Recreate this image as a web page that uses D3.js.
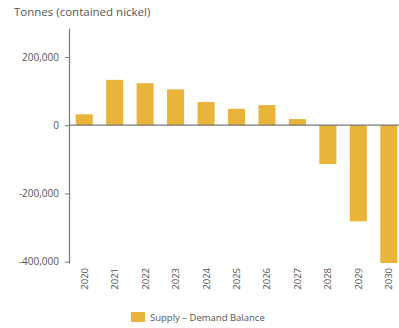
<!DOCTYPE html>
<html>
<head>
<meta charset="utf-8">
<script src="https://cdn.jsdelivr.net/npm/d3@7"></script>
<style>
  body { margin: 0; background: #fff; }
  svg { font-family: "Open Sans", sans-serif; }
</style>
</head>
<body>
<div id="chart"></div>
<script>
// data
var years = ["2020", "2021", "2022", "2023", "2024", "2025", "2026", "2027", "2028", "2029", "2030"];
var balance = [32000, 133000, 123000, 105000, 68000, 48000, 59000, 18000, -114000, -282000, -404000];
var yTicks = [200000, 0, -200000, -400000];
var seriesName = "Supply \u2013 Demand Balance";

var width = 399, height = 328;
var barColor = "#E8B43A";
var textColor = "#555";

var svg = d3.select("#chart").append("svg")
  .attr("width", width)
  .attr("height", height);

var x = d3.scaleBand().domain(years).range([69, 404]).paddingInner(0.44).paddingOuter(0.22);
var y = d3.scaleLinear().domain([-404000, 285000]).range([263, 28]);

// title
svg.append("text")
  .attr("x", 14).attr("y", 16)
  .attr("font-size", 11.5)
  .attr("fill", textColor)
  .text("Tonnes (contained nickel)");

// bars
svg.selectAll("rect.bar")
  .data(years)
  .enter().append("rect")
  .attr("class", "bar")
  .attr("x", function (d) { return x(d); })
  .attr("width", x.bandwidth())
  .attr("y", function (d, i) { return y(Math.max(0, balance[i])); })
  .attr("height", function (d, i) { return Math.abs(y(balance[i]) - y(0)); })
  .attr("fill", barColor);

// y axis, plain hyphen for negatives like the original
var fmt = d3.format(",");
var yAxis = svg.append("g")
  .attr("transform", "translate(69,0)")
  .call(d3.axisLeft(y).tickValues(yTicks).tickSize(4).tickSizeOuter(0).tickPadding(6)
    .tickFormat(function (d) { return fmt(d).replace("\u2212", "-"); }));
yAxis.select(".domain").attr("stroke", "#777").attr("stroke-width", 1.2);
yAxis.selectAll(".tick line").attr("stroke", "#777");
yAxis.selectAll(".tick text").attr("font-size", 10).attr("fill", textColor)
  .attr("font-family", "Open Sans, sans-serif");

// zero line
svg.append("line")
  .attr("x1", 69).attr("x2", width)
  .attr("y1", y(0)).attr("y2", y(0))
  .attr("stroke", "#777").attr("stroke-width", 1.2);

// year labels (rotated)
svg.selectAll("text.year")
  .data(years)
  .enter().append("text")
  .attr("class", "year")
  .attr("transform", function (d) {
    return "translate(" + (x(d) + x.bandwidth() / 2 + 3.5) + ",268) rotate(-90)";
  })
  .attr("text-anchor", "end")
  .attr("font-size", 9.5)
  .attr("fill", textColor)
  .text(function (d) { return d; });

// legend
var legend = svg.append("g").attr("transform", "translate(131,312)");
legend.append("rect")
  .attr("width", 14).attr("height", 10)
  .attr("fill", barColor);
legend.append("text")
  .attr("x", 19).attr("y", 9)
  .attr("font-size", 9.5)
  .attr("fill", textColor)
  .text(seriesName);
</script>
</body>
</html>
